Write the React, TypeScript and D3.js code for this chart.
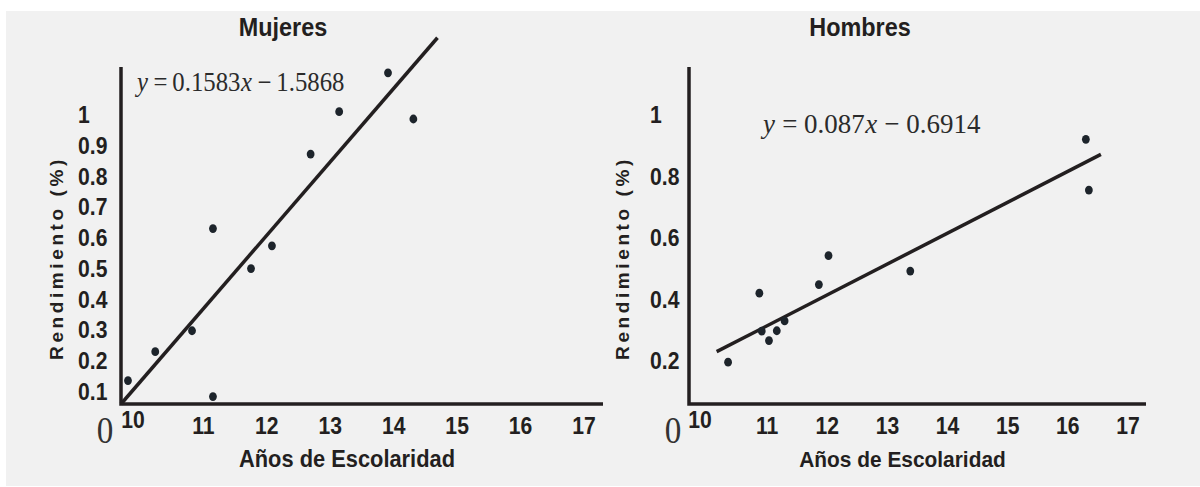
import { useEffect, useRef } from 'react';
import * as d3 from 'd3';

const W = 1200;
const H = 487;

// ticks
const xTicks = [10, 11, 12, 13, 14, 15, 16, 17];
const yTicksMujeres = [0.1, 0.2, 0.3, 0.4, 0.5, 0.6, 0.7, 0.8, 0.9, 1];
const yTicksHombres = [0.2, 0.4, 0.6, 0.8, 1];

// Mujeres: años de escolaridad vs rendimiento
const escolaridadMujeres = [9.81, 10.24, 10.82, 11.15, 11.15, 11.75, 12.08, 12.69, 13.14, 13.91, 14.31];
const rendimientoMujeres = [0.136, 0.23, 0.298, 0.084, 0.63, 0.5, 0.574, 0.872, 1.01, 1.136, 0.986];
const tendenciaMujeres: [number, number][] = [[9.7, 0.06], [14.69, 1.25]];

// Hombres
const escolaridadHombres = [10.35, 10.87, 10.91, 11.03, 11.16, 11.29, 11.86, 12.02, 13.38, 16.3, 16.35];
const rendimientoHombres = [0.196, 0.42, 0.297, 0.266, 0.298, 0.33, 0.448, 0.542, 0.492, 0.92, 0.755];
const tendenciaHombres: [number, number][] = [[10.16, 0.23], [16.55, 0.871]];

const xDomain = [9.7, 17.3];
const yDomain = [0.06, 1.155];

const INK = '#231f20';
const DOT = '#1d242b';
const SANS = '"Liberation Sans", Arial, Helvetica, sans-serif';
const SERIF = '"Liberation Serif", "Times New Roman", serif';

interface PanelSpec {
  title: string;
  titleX: number;
  xRange: [number, number];
  yTicks: number[];
  tickLabelX: number;
  yTitleX: number;
  zeroX: number;
  xs: number[];
  ys: number[];
  trend: [number, number][];
  eq: { slope: string; icpt: string; x: number; width: number; size: number; sep: string };
  eqY: number;
  xTitleSize: number;
}

const panels: PanelSpec[] = [
  {
    title: 'Mujeres',
    titleX: 283,
    xRange: [121, 603],
    yTicks: yTicksMujeres,
    tickLabelX: 78,
    yTitleX: 56,
    zeroX: 105,
    xs: escolaridadMujeres,
    ys: rendimientoMujeres,
    trend: tendenciaMujeres,
    eq: { slope: '0.1583', icpt: '1.5868', x: 137, width: 208, size: 27, sep: '\u2009' },
    eqY: 91,
    xTitleSize: 22,
  },
  {
    title: 'Hombres',
    titleX: 860,
    xRange: [689, 1146],
    yTicks: yTicksHombres,
    tickLabelX: 650,
    yTitleX: 622,
    zeroX: 673,
    xs: escolaridadHombres,
    ys: rendimientoHombres,
    trend: tendenciaHombres,
    eq: { slope: '0.087', icpt: '0.6914', x: 763, width: 218, size: 28, sep: ' ' },
    eqY: 133,
    xTitleSize: 21,
  },
];

type G = d3.Selection<SVGGElement, unknown, null, undefined>;

// sans bold label, slightly condensed like the original figure
function label(g: G, x: number, y: number, txt: string, size: number, anchor = 'start', sx = 0.92) {
  return g.append('text')
    .attr('transform', `translate(${x},${y}) scale(${sx},1)`)
    .attr('text-anchor', anchor)
    .attr('font-family', SANS).attr('font-weight', 700).attr('font-size', size)
    .attr('fill', INK)
    .text(txt);
}

export default function App() {
  const svgRef = useRef<SVGSVGElement>(null);

  useEffect(() => {
    if (!svgRef.current) return;
    const svg = d3.select(svgRef.current);
    svg.selectAll('*').remove();

    svg.append('rect')
      .attr('x', 6).attr('y', 11)
      .attr('width', W - 6).attr('height', H - 12)
      .attr('fill', '#f1f1f1');

    panels.forEach(p => {
      const x = d3.scaleLinear().domain(xDomain).range(p.xRange);
      const y = d3.scaleLinear().domain(yDomain).range([404, 67]);
      const g = svg.append('g') as G;

      // title
      label(g, p.titleX, 36, p.title, 26, 'middle', 0.9);

      // trend line
      const line = d3.line<[number, number]>().x(d => x(d[0])).y(d => y(d[1]));
      g.append('path')
        .attr('d', line(p.trend))
        .attr('stroke', INK).attr('stroke-width', 3.5).attr('fill', 'none');

      // axes
      g.append('path')
        .attr('d', `M${x(xDomain[0])},${y(yDomain[1])}V${y(yDomain[0])}H${x(xDomain[1])}`)
        .attr('stroke', INK).attr('stroke-width', 3.5).attr('fill', 'none');

      // points
      g.selectAll('ellipse.pt')
        .data(p.xs.map((v, i) => [v, p.ys[i]]))
        .enter().append('ellipse')
        .attr('class', 'pt')
        .attr('cx', d => x(d[0])).attr('cy', d => y(d[1]))
        .attr('rx', 3.9).attr('ry', 4.4)
        .attr('fill', DOT);

      // y tick labels
      p.yTicks.forEach(t => {
        label(g, p.tickLabelX, y(t), String(t), 23, 'start', 0.92).attr('dy', '0.36em');
      });

      // x tick labels (first one sits raised, tucked into the corner)
      xTicks.forEach((t, i) => {
        label(g, x(t) + (i === 0 ? -7 : 0), i === 0 ? 428 : 434, String(t), 23, 'middle', 0.92);
      });

      // origin zero
      g.append('text')
        .attr('transform', `translate(${p.zeroX},443) scale(0.85,1)`)
        .attr('text-anchor', 'middle')
        .attr('font-family', SERIF).attr('font-size', 39)
        .attr('fill', '#333')
        .text('0');

      // x title
      label(g, (p.xRange[0] + p.xRange[1]) / 2 - 15, 467, 'Años de Escolaridad', p.xTitleSize + 1, 'middle', 0.95);

      // y title
      g.append('text')
        .attr('transform', `translate(${p.yTitleX},${258}) rotate(-90)`)
        .attr('text-anchor', 'middle')
        .attr('dy', '0.35em')
        .attr('font-family', SANS).attr('font-weight', 700).attr('font-size', 19)
        .attr('letter-spacing', 3.6)
        .attr('fill', INK)
        .text('Rendimiento (%)');

      // equation: pieces laid side by side, then squeezed to the width of the original
      const eqG = g.append('g');
      const pieces = [
        { t: 'y', it: true },
        { t: `${p.eq.sep}=${p.eq.sep}${p.eq.slope}`, it: false },
        { t: 'x', it: true },
        { t: `${p.eq.sep}\u2212${p.eq.sep}${p.eq.icpt}`, it: false },
      ];
      let cursor = 0;
      pieces.forEach(pc => {
        const t = eqG.append('text')
          .attr('x', cursor).attr('y', 0)
          .attr('font-family', SERIF).attr('font-size', p.eq.size)
          .attr('font-style', pc.it ? 'italic' : 'normal')
          .attr('fill', '#2b2b2b')
          .attr('xml:space', 'preserve')
          .style('white-space', 'pre')
          .text(pc.t);
        const len = (t.node() as SVGTextElement).getComputedTextLength();
        cursor += len + 0.5;
      });
      const sx = cursor > 0 ? p.eq.width / cursor : 1;
      eqG.attr('transform', `translate(${p.eq.x},${p.eqY}) scale(${sx},1)`);
    });
  }, []);

  return (
    <svg
      ref={svgRef}
      width={W}
      height={H}
      style={{ position: 'fixed', left: 0, top: 0, background: '#fff' }}
    />
  );
}
